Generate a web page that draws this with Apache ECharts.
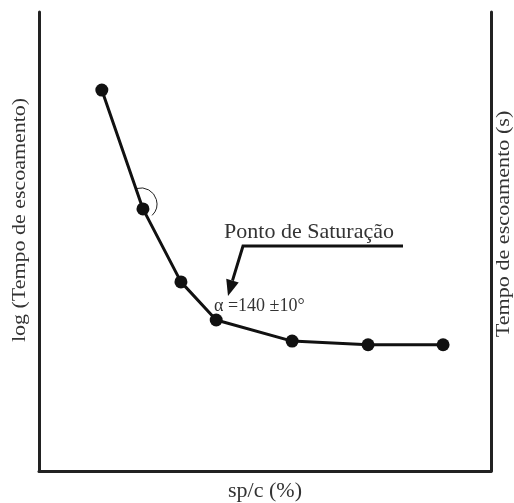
<!DOCTYPE html>
<html><head><meta charset="utf-8">
<script src="https://cdn.jsdelivr.net/npm/echarts@6/dist/echarts.min.js"></script>
<style>html,body{margin:0;padding:0;background:#fff}#c{width:514px;height:503px}</style>
</head><body><div id="c"></div>
<script>
var spc = [13.9, 23.0, 31.4, 39.2, 56.0, 72.8, 89.4];
var logTempo = [83.0, 57.1, 41.2, 32.9, 28.3, 27.5, 27.5];
var xName = 'sp/c (%)';
var yNameLeft = 'log (Tempo de escoamento)';
var yNameRight = 'Tempo de escoamento (s)';
var annSat = 'Ponto de Saturação';
var annAlpha = 'α =140 ±10°';

var FONT = '"Liberation Serif", "DejaVu Serif", serif';
var chart = echarts.init(document.getElementById('c'));
var axisLine = {show: true, lineStyle: {color: '#222', width: 3}};
var common = {axisTick: {show: false}, axisLabel: {show: false}, splitLine: {show: false}};
chart.setOption({
  animation: false,
  backgroundColor: '#fff',
  grid: {left: 39, right: 23, top: 12, bottom: 32, containLabel: false, outerBoundsMode: 'none'},
  xAxis: Object.assign({type: 'value', min: 0, max: 100, axisLine: axisLine,
    name: xName, nameLocation: 'middle', nameGap: 9,
    nameTextStyle: {fontFamily: FONT, fontSize: 22, color: '#333', verticalAlign: 'top'}}, common),
  yAxis: [
    Object.assign({type: 'value', min: 0, max: 100, position: 'left', axisLine: axisLine}, common),
    Object.assign({type: 'value', min: 0, max: 100, position: 'right', axisLine: axisLine}, common)
  ],
  series: [{
    type: 'line', data: spc.map(function (x, i) { return [x, logTempo[i]]; }),
    symbol: 'circle', symbolSize: 13,
    lineStyle: {color: '#111', width: 3},
    itemStyle: {color: '#111'}
  }]
});

var p1 = chart.convertToPixel({gridIndex: 0}, [spc[1], logTempo[1]]);
var tip = [228, 296], dir = [-0.28, 0.96], perp = [0.96, 0.28];
var base = [tip[0] - 16 * dir[0], tip[1] - 16 * dir[1]];
chart.setOption({
  graphic: [
    {type: 'arc', shape: {cx: p1[0] - 2, cy: p1[1] - 5, r: 16, startAngle: -1.85, endAngle: 0.8},
      style: {stroke: '#222', lineWidth: 1, fill: null}},
    {type: 'polyline', shape: {points: [[403, 246], [243, 246], [base[0], base[1]]]},
      style: {stroke: '#111', lineWidth: 3, fill: null}},
    {type: 'polygon', shape: {points: [tip,
      [base[0] + 6.5 * perp[0], base[1] + 6.5 * perp[1]],
      [base[0] - 6.5 * perp[0], base[1] - 6.5 * perp[1]]]}, style: {fill: '#111'}},
    {type: 'text', x: 309, y: 232, style: {text: annSat, font: '22px ' + FONT, fill: '#333',
      align: 'center', verticalAlign: 'middle'}},
    {type: 'text', x: 214, y: 306, style: {text: annAlpha, font: '18px ' + FONT, fill: '#333',
      align: 'left', verticalAlign: 'middle'}},
    {type: 'text', x: 20, y: 220, rotation: Math.PI / 2, scaleX: 1.22,
      style: {text: yNameLeft, font: '18px ' + FONT, fill: '#333', align: 'center', verticalAlign: 'middle'}},
    {type: 'text', x: 504, y: 224, rotation: Math.PI / 2, scaleX: 1.23,
      style: {text: yNameRight, font: '18px ' + FONT, fill: '#333', align: 'center', verticalAlign: 'middle'}}
  ]
});
</script></body></html>
